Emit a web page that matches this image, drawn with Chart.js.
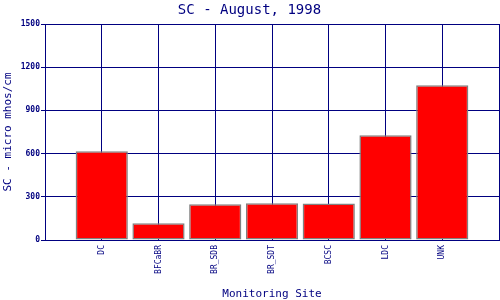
<!DOCTYPE html>
<html>
<head>
<meta charset="utf-8">
<script src="https://cdn.jsdelivr.net/npm/chart.js@4"></script>
<style>
  html, body { margin: 0; padding: 0; background: #fff; }
  #wrap { width: 500px; height: 300px; }
</style>
</head>
<body>
<div id="wrap"><canvas id="scChart"></canvas></div>
<script>
// blank slots at both ends so the bars sit on the grid lines
const sites = ['', 'DC', 'BFCaBR', 'BR_SDB', 'BR_SDT', 'BCSC', 'LDC', 'UNK', '']
const conductance = [null, 616, 116, 248, 255, 254, 727, 1074, null]
const yTicks = [0, 300, 600, 900, 1200, 1500]

const navy = '#000080'
const mono = 'DejaVu Sans Mono'

const ctx = document.getElementById('scChart');
new Chart(ctx, {
    type: 'bar',
    data: {
        labels: sites,
        datasets: [{
            label: 'SC',
            data: conductance,
            backgroundColor: '#ff0000',
            borderColor: '#808080',
            borderWidth: 1.5,
            borderSkipped: false,
            categoryPercentage: 1,
            barPercentage: 0.92
        }]
    },
    options: {
        responsive: true,
        maintainAspectRatio: false,
        animation: false,
        layout: {
            padding: { left: 0, right: 1, top: 0, bottom: 0 }
        },
        plugins: {
            legend: { display: false },
            tooltip: { enabled: false },
            title: {
                display: true,
                text: 'SC - August, 1998',
                color: navy,
                font: { family: mono, size: 14, weight: 'normal' },
                padding: { top: 2, bottom: 5.2 }
            }
        },
        scales: {
            x: {
                offset: false,
                grid: {
                    offset: false,
                    color: navy,
                    lineWidth: 1,
                    drawTicks: false
                },
                border: { color: navy, width: 1 },
                ticks: {
                    color: navy,
                    font: { family: mono, size: 8 },
                    minRotation: 90,
                    maxRotation: 90,
                    autoSkip: false,
                    padding: 5
                },
                title: {
                    display: true,
                    text: 'Monitoring Site',
                    color: navy,
                    font: { family: mono, size: 11 },
                    padding: { top: 0, bottom: -1 }
                },
                afterFit: (scale) => {
                    scale.height = 60
                    scale.paddingLeft = 0
                    scale.paddingRight = 0
                }
            },
            y: {
                min: 0,
                max: 1500,
                afterBuildTicks: (scale) => {
                    scale.ticks = yTicks.map(v => ({ value: v }))
                },
                grid: {
                    color: navy,
                    lineWidth: 1,
                    tickLength: 4
                },
                border: { color: navy, width: 1 },
                ticks: {
                    color: navy,
                    font: { family: mono, size: 8, weight: 'bold' },
                    padding: 1,
                    callback: (v) => String(v)
                },
                title: {
                    display: true,
                    text: 'SC - micro mhos/cm',
                    color: navy,
                    font: { family: mono, size: 11 },
                    padding: { top: 2, bottom: 0 }
                },
                afterFit: (scale) => {
                    scale.width = 45
                    scale.paddingTop = 0
                    scale.paddingBottom = 0
                }
            }
        }
    }
});
</script>
</body>
</html>
